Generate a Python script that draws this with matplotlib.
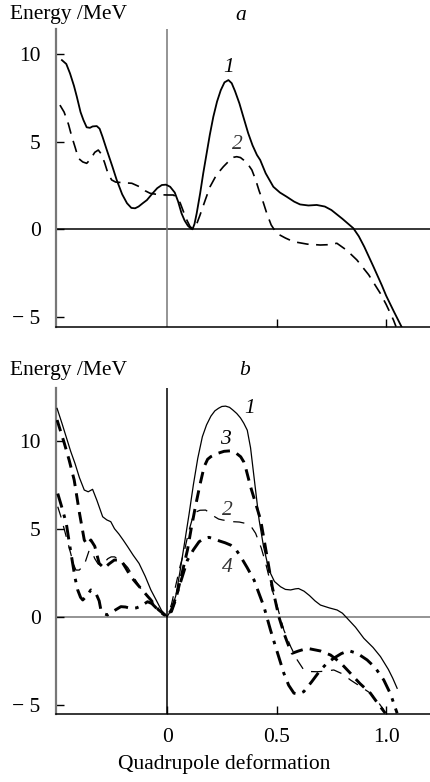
import matplotlib
matplotlib.use("Agg")
import matplotlib.pyplot as plt

plt.rcParams["font.family"] = ["Liberation Serif", "DejaVu Serif"]

# panel a: curves 1 and 2
a1_x = [-0.48, -0.46, -0.443, -0.425, -0.412, -0.395, -0.382, -0.367, -0.352, -0.34, -0.321,
        -0.308, -0.295, -0.275, -0.25, -0.23, -0.205, -0.183, -0.163, -0.146, -0.13, -0.11,
        -0.092, -0.07, -0.045, -0.024, -0.005, 0.014, 0.035, 0.05, 0.066, 0.08, 0.095, 0.108,
        0.116, 0.125, 0.135, 0.151, 0.165, 0.18, 0.195, 0.211, 0.228, 0.245, 0.262, 0.28,
        0.295, 0.31, 0.33, 0.348, 0.37, 0.39, 0.41, 0.425, 0.45, 0.485, 0.515, 0.546, 0.58,
        0.607, 0.645, 0.683, 0.72, 0.75, 0.8, 0.85, 0.875, 0.9, 0.942, 0.98, 1.0, 1.035, 1.07]
a1_y = [9.67, 9.45, 8.91, 8.2, 7.58, 6.7, 6.25, 5.83, 5.8, 5.88, 5.9,
        5.75, 5.3, 4.53, 3.6, 2.82, 2.0, 1.49, 1.22, 1.2, 1.3, 1.5,
        1.67, 2.0, 2.35, 2.53, 2.55, 2.43, 2.1, 1.6, 0.91, 0.5, 0.2, 0.05,
        0.0, 0.3, 0.9, 2.06, 3.2, 4.3, 5.4, 6.43, 7.3, 7.95, 8.4, 8.53,
        8.35, 7.9, 7.2, 6.43, 5.5, 4.8, 4.25, 3.96, 3.2, 2.43, 2.1, 1.86, 1.58,
        1.42, 1.36, 1.39, 1.3, 1.1, 0.6, 0.06, -0.4, -1.0, -2.14, -3.2, -3.8, -4.7, -5.57]

a2_x = [-0.489, -0.47, -0.45, -0.435, -0.42, -0.405, -0.385, -0.367, -0.35, -0.33, -0.314,
        -0.3, -0.285, -0.27, -0.253, -0.235, -0.2, -0.161, -0.12, -0.1, -0.078, -0.04, 0.0,
        0.029, 0.045, 0.06, 0.075, 0.09, 0.105, 0.12, 0.135, 0.15, 0.175, 0.196, 0.225, 0.257,
        0.29, 0.305, 0.318, 0.335, 0.35, 0.37, 0.387, 0.405, 0.42, 0.44, 0.455, 0.475, 0.5,
        0.54, 0.577, 0.64, 0.699, 0.74, 0.775, 0.82, 0.866, 0.92, 0.973, 1.0, 1.033, 1.045]
a2_y = [7.1, 6.7, 6.0, 5.3, 4.7, 4.06, 3.85, 3.77, 4.0, 4.4, 4.53,
        4.3, 3.8, 3.2, 2.82, 2.7, 2.66, 2.63, 2.4, 2.2, 2.06, 1.98, 1.96,
        1.96, 1.8, 1.5, 1.0, 0.53, 0.15, 0.0, 0.3, 0.8, 1.7, 2.43, 3.1, 3.58,
        4.0, 4.12, 4.15, 4.1, 3.95, 3.7, 3.39, 2.8, 2.2, 1.5, 0.91, 0.25, -0.23,
        -0.5, -0.71, -0.85, -0.9, -0.88, -0.8, -1.2, -1.75, -2.6, -3.66, -4.3, -5.18, -5.57]

# panel b: curves 1-4
b1_x = [-0.502, -0.48, -0.46, -0.44, -0.42, -0.4, -0.378, -0.36, -0.34, -0.32, -0.294, -0.275,
        -0.257, -0.24, -0.22, -0.2, -0.18, -0.155, -0.128, -0.1, -0.074, -0.05, -0.025, 0.0,
        0.02, 0.04, 0.058, 0.077, 0.1, 0.12, 0.14, 0.161, 0.18, 0.2, 0.218, 0.235, 0.25, 0.267,
        0.285, 0.3, 0.318, 0.335, 0.35, 0.366, 0.381, 0.4, 0.42, 0.44, 0.465, 0.49, 0.518,
        0.54, 0.564, 0.585, 0.6, 0.625, 0.65, 0.675, 0.7, 0.74, 0.776, 0.8, 0.822, 0.86, 0.898,
        0.94, 0.974, 1.01, 1.03, 1.05]
b1_y = [11.84, 11.0, 10.2, 9.4, 8.7, 7.9, 7.2, 7.1, 7.24, 6.6, 5.68, 5.5,
        5.4, 5.0, 4.7, 4.35, 3.98, 3.5, 3.03, 2.3, 1.52, 0.95, 0.35, 0.0,
        0.4, 1.2, 2.5, 3.98, 5.8, 7.5, 9.0, 10.23, 10.9, 11.4, 11.7, 11.85, 11.95, 11.97,
        11.9, 11.75, 11.55, 11.3, 11.0, 10.6, 9.6, 7.6, 5.5, 4.0, 2.65, 2.0, 1.7,
        1.55, 1.52, 1.58, 1.6, 1.45, 1.2, 0.9, 0.66, 0.5, 0.38, 0.2, -0.09, -0.6, -1.23,
        -1.75, -2.27, -3.0, -3.5, -4.07]

b2_x = [-0.499, -0.485, -0.47, -0.455, -0.44, -0.428, -0.416, -0.401, -0.378, -0.355, -0.34,
        -0.33, -0.315, -0.3, -0.285, -0.27, -0.255, -0.24, -0.225, -0.21, -0.195, -0.18, -0.15,
        -0.12, -0.095, -0.074, -0.04, 0.0, 0.02, 0.04, 0.06, 0.08, 0.1, 0.123, 0.15, 0.176,
        0.195, 0.215, 0.235, 0.252, 0.3, 0.33, 0.359, 0.385, 0.404, 0.43, 0.45, 0.48, 0.503,
        0.533, 0.564, 0.594, 0.624, 0.655, 0.685, 0.72, 0.761, 0.8, 0.837, 0.88, 0.928, 0.96,
        0.989]
b2_y = [6.25, 5.7, 5.0, 4.3, 3.6, 3.0, 2.65, 2.65, 2.94, 3.79, 3.6,
        3.3, 3.0, 2.9, 3.1, 3.3, 3.4, 3.4, 3.3, 3.2, 3.0, 2.8, 2.2,
        1.6, 1.2, 0.95, 0.4, 0.0, 0.7, 1.8, 2.9, 3.8, 4.9, 5.9, 6.05, 6.06,
        5.9, 5.7, 5.55, 5.5, 5.4, 5.38, 5.3, 5.1, 4.74, 3.9, 3.03, 1.52, 0.57,
        -0.76, -1.7, -2.46, -3.03, -3.12, -3.13, -3.1, -3.03, -3.25, -3.6, -3.95, -4.35, -4.8,
        -5.3]

b3_x = [-0.502, -0.485, -0.47, -0.447, -0.424, -0.4, -0.378, -0.365, -0.348, -0.33, -0.31,
        -0.287, -0.265, -0.241, -0.211, -0.19, -0.165, -0.14, -0.12, -0.095, -0.074, -0.04, 0.0,
        0.02, 0.04, 0.065, 0.093, 0.11, 0.13, 0.15, 0.169, 0.185, 0.2, 0.23, 0.26, 0.29, 0.315,
        0.336, 0.35, 0.36, 0.381, 0.405, 0.427, 0.455, 0.48, 0.51, 0.535, 0.556, 0.571, 0.6,
        0.64, 0.7, 0.746, 0.79, 0.837, 0.88, 0.928, 0.96, 0.996]
b3_y = [11.18, 10.5, 9.9, 8.9, 7.77, 5.9, 4.36, 4.1, 4.36, 4.0, 3.03,
        2.75, 3.0, 3.22, 3.22, 2.8, 2.27, 1.9, 1.61, 1.25, 0.95, 0.4, 0.0,
        0.3, 1.0, 2.3, 3.79, 5.0, 6.3, 7.5, 8.52, 8.95, 9.1, 9.28, 9.4, 9.43, 9.3,
        9.09, 8.8, 8.4, 7.39, 6.4, 5.5, 3.5, 1.7, 0.0, -1.0, -1.7, -2.08, -1.95,
        -1.8, -1.95, -2.18, -2.6, -3.22, -3.8, -4.35, -4.9, -5.49]

b4_x = [-0.499, -0.48, -0.46, -0.445, -0.431, -0.42, -0.408, -0.395, -0.385, -0.365, -0.348,
        -0.325, -0.31, -0.302, -0.285, -0.272, -0.24, -0.211, -0.19, -0.165, -0.14, -0.12,
        -0.089, -0.07, -0.05, -0.025, 0.0, 0.02, 0.04, 0.065, 0.093, 0.12, 0.146, 0.17, 0.191,
        0.215, 0.24, 0.265, 0.29, 0.315, 0.336, 0.365, 0.397, 0.42, 0.442, 0.472, 0.495, 0.533,
        0.555, 0.579, 0.6, 0.624, 0.66, 0.7, 0.73, 0.761, 0.795, 0.829, 0.87, 0.913, 0.95,
        0.989, 1.02, 1.05]
b4_y = [7.0, 6.2, 5.3, 4.1, 3.03, 2.2, 1.52, 1.1, 0.95, 1.2, 1.52,
        1.33, 0.9, 0.38, 0.15, 0.1, 0.35, 0.57, 0.55, 0.47, 0.5, 0.6,
        0.85, 0.75, 0.5, 0.2, 0.0, 0.4, 1.1, 2.1, 3.22, 3.8, 4.26, 4.45, 4.51,
        4.42, 4.3, 4.2, 4.07, 3.8, 3.41, 2.8, 2.08, 1.3, 0.57, -0.76, -1.7, -3.22,
        -3.9, -4.35, -4.4, -4.26, -3.7, -3.03, -2.65, -2.36, -2.1, -1.93, -2.1, -2.46, -2.9,
        -3.6, -4.4, -5.49]

y_ticks = [-5, 0, 5, 10]
y_tick_labels = ["\u2212 5", "0", "5", "10"]
x_ticks = [0, 0.5, 1.0]
x_tick_labels = ["0", "0.5", "1.0"]

FS = 15.5
W, H = 431, 782
fig = plt.figure(figsize=(W / 100, H / 100), dpi=100)


def px_axes(left, top, right, bottom):
    return fig.add_axes([left / W, 1 - bottom / H, (right - left) / W, (bottom - top) / H])


def style(ax, ylim, zero_h_color, zero_v_color, show_xlabels):
    ax.set_xlim(-0.507, 1.2)
    ax.set_ylim(*ylim)
    for side in ("top", "right"):
        ax.spines[side].set_visible(False)
    ax.spines["left"].set_color("#777777")
    ax.spines["left"].set_linewidth(1.6)
    ax.spines["bottom"].set_linewidth(1.1)
    ax.axhline(0, color=zero_h_color, lw=1.1, zorder=1)
    ax.axvline(0, color=zero_v_color, lw=1.1, zorder=1)
    ax.set_yticks(y_ticks)
    ax.set_yticklabels(y_tick_labels, fontsize=FS)
    ax.set_xticks([0.5, 1.0])
    ax.tick_params(axis="y", direction="in", length=6, width=1, pad=11, color="black")
    ax.tick_params(axis="x", direction="in", length=6, width=1, pad=10)
    if show_xlabels:
        ax.set_xticks(x_ticks)
        ax.set_xticklabels(x_tick_labels, fontsize=FS)
    else:
        ax.set_xticklabels([])


def curve_label(ax, x, y, s, color="black"):
    ax.text(x, y, s, fontsize=FS, style="italic", ha="center", va="center", color=color)


ax_a = px_axes(56, 29, 430, 326.7)
style(ax_a, (-5.57, 11.45), "black", "#777777", False)
ax_a.plot(a1_x, a1_y, color="black", lw=1.3, zorder=3)
ax_a.plot(a2_x, a2_y, color="black", lw=1.2, dashes=(7, 4.5), zorder=3)
curve_label(ax_a, 0.283, 9.25, "1")
curve_label(ax_a, 0.32, 4.85, "2", "#333333")

ax_b = px_axes(56, 388, 430, 714.3)
style(ax_b, (-5.55, 13.0), "#777777", "black", True)
ax_b.plot(b1_x, b1_y, color="black", lw=0.9, zorder=3)
ax_b.plot(b2_x, b2_y, color="black", lw=0.9, dashes=(9, 7), zorder=3)
ax_b.plot(b3_x, b3_y, color="black", lw=2.1, dashes=(4, 2.5), zorder=3)
ax_b.plot(b4_x, b4_y, color="black", lw=2.1, dashes=(5, 2.5, 1.2, 2.5), zorder=3)
curve_label(ax_b, 0.375, 11.85, "1")
curve_label(ax_b, 0.264, 10.05, "3")
curve_label(ax_b, 0.276, 6.05, "2", "#333333")
curve_label(ax_b, 0.276, 2.8, "4", "#333333")

fig.text(10 / W, 1 - 15 / H, "Energy /MeV", fontsize=FS, va="center", ha="left")
fig.text(241 / W, 1 - 15 / H, "a", fontsize=FS, style="italic", va="center", ha="center")
fig.text(10 / W, 1 - 370 / H, "Energy /MeV", fontsize=FS, va="center", ha="left")
fig.text(245 / W, 1 - 370 / H, "b", fontsize=FS, style="italic", va="center", ha="center")
fig.text(224 / W, 1 - 764 / H, "Quadrupole deformation", fontsize=FS, va="center", ha="center")

fig.savefig("out.png", dpi=100)
